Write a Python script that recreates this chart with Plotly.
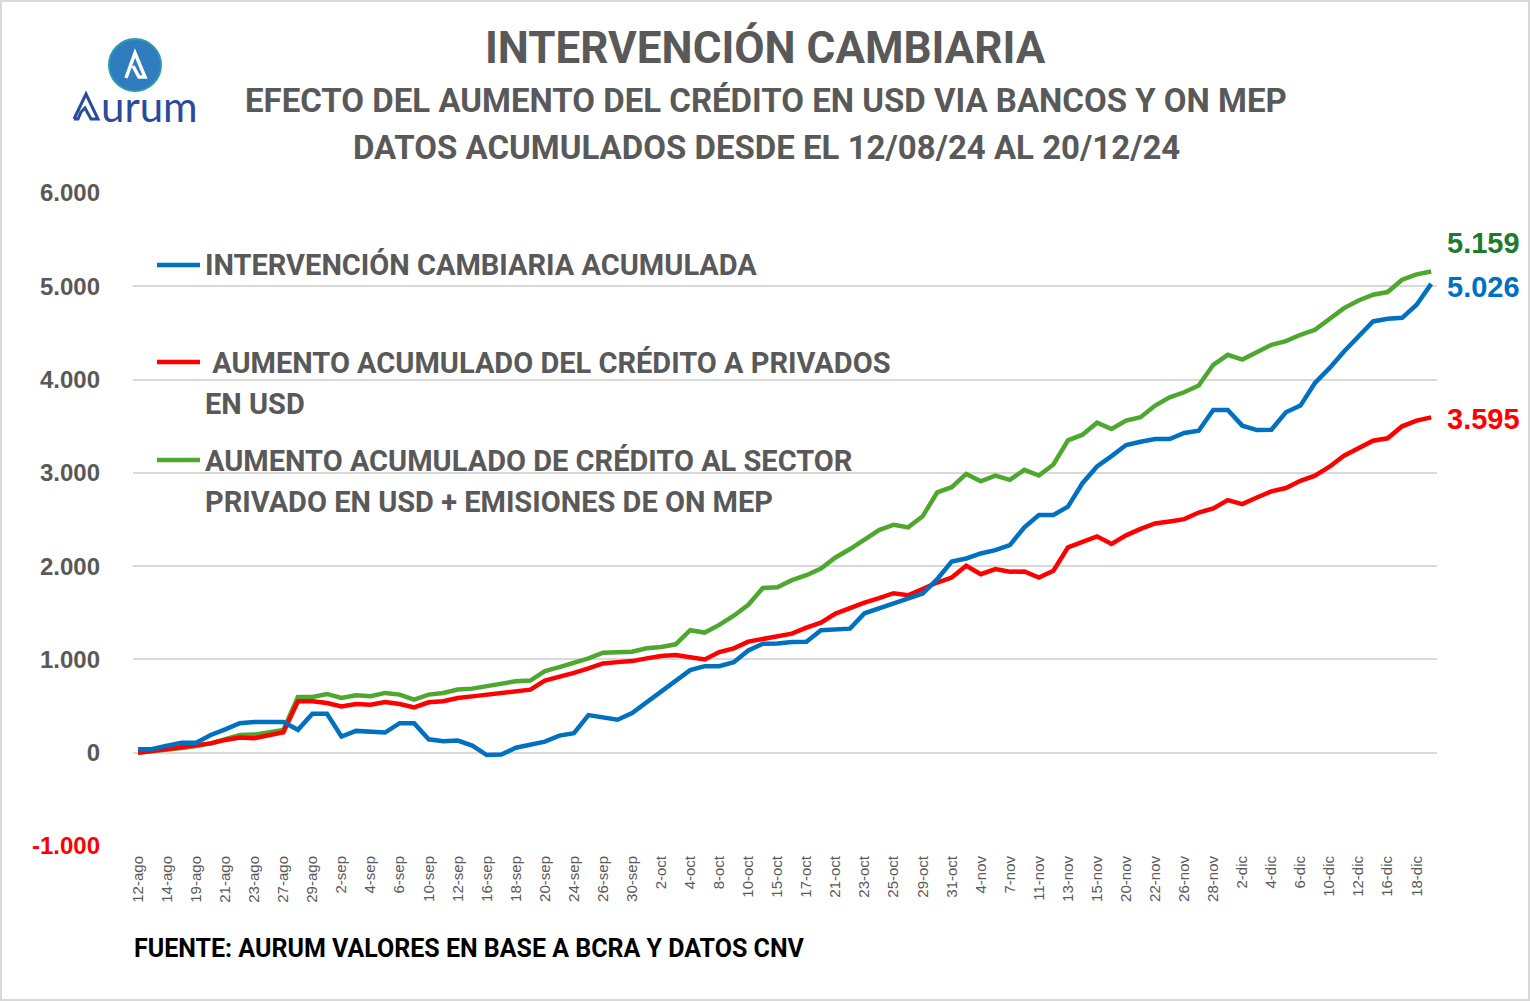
import plotly.graph_objects as go

# ---------------- DATA ----------------
dates = [
    "12-ago", "13-ago", "14-ago", "15-ago", "19-ago", "20-ago", "21-ago", "22-ago", "23-ago", "26-ago",
    "27-ago", "28-ago", "29-ago", "30-ago",
    "2-sep", "3-sep", "4-sep", "5-sep", "6-sep", "9-sep", "10-sep", "11-sep", "12-sep", "13-sep",
    "16-sep", "17-sep", "18-sep", "19-sep", "20-sep", "23-sep", "24-sep", "25-sep", "26-sep", "27-sep", "30-sep",
    "1-oct", "2-oct", "3-oct", "4-oct", "7-oct", "8-oct", "9-oct", "10-oct", "14-oct", "15-oct",
    "16-oct", "17-oct", "18-oct", "21-oct", "22-oct", "23-oct", "24-oct", "25-oct", "28-oct", "29-oct",
    "30-oct", "31-oct",
    "1-nov", "4-nov", "6-nov", "7-nov", "8-nov", "11-nov", "12-nov", "13-nov", "14-nov", "15-nov",
    "19-nov", "20-nov", "21-nov", "22-nov", "25-nov", "26-nov", "27-nov", "28-nov", "29-nov",
    "2-dic", "3-dic", "4-dic", "5-dic", "6-dic", "9-dic", "10-dic", "11-dic", "12-dic", "13-dic",
    "16-dic", "17-dic", "18-dic", "20-dic",
]

intervencion = [
    36, 40, 75, 108, 108, 190, 250, 317, 328, 328, 328,
    245, 418, 418, 173, 234, 230, 216, 317, 317, 144, 122,
    130, 76, -25, -20, 54, 83, 119, 183, 209, 403, 374, 353, 424, 540, 665, 773, 885, 928, 928, 971, 1097, 1169, 1170,
    1186, 1190, 1312, 1315, 1330, 1495, 1545, 1602, 1645, 1706, 1860, 2050, 2082, 2136, 2172, 2226, 2416, 2548, 2548,
    2638, 2889, 3068, 3180,
    3298, 3334, 3363, 3363, 3427, 3452, 3674, 3674, 3506, 3459, 3463, 3649, 3721, 3964, 4122, 4301, 4465, 4623, 4652,
    4662, 4802, 5026,
]

credito = [
    0, 18, 36, 54, 72, 100, 137, 162, 155, 184, 220,
    551, 551, 533, 497, 522, 515, 544, 522, 486, 540, 551,
    586, 604, 622, 640, 662, 676, 773, 809, 856, 903, 957, 971, 982, 1011, 1036, 1047, 1025, 1000, 1079, 1119, 1191,
    1216, 1241,
    1276, 1341, 1394, 1491, 1556, 1609, 1656, 1710, 1688, 1760, 1824, 1878, 2004, 1914, 1968, 1939, 1943, 1878, 1950,
    2201, 2262, 2319, 2237,
    2330, 2400, 2457, 2479, 2504, 2575, 2618, 2708, 2665, 2736, 2801, 2837, 2915, 2969, 3066, 3184, 3263, 3345, 3370,
    3499, 3560, 3595,
]

credito_on = [
    0, 14, 32, 50, 72, 100, 144, 190, 194, 220, 245,
    598, 598, 630, 587, 616, 605, 641, 623, 569, 623, 641, 677,
    687, 712, 737, 766, 773, 874, 917, 964, 1011, 1072, 1083, 1083, 1119, 1133, 1162, 1313, 1288, 1370, 1468, 1586,
    1766, 1773,
    1850, 1903, 1975, 2093, 2183, 2290, 2387, 2444, 2416, 2534, 2792, 2846, 2989, 2910, 2971, 2925, 3032, 2971, 3090,
    3348, 3409, 3538, 3470,
    3560, 3596, 3721, 3810, 3864, 3936, 4158, 4265, 4215, 4294, 4372, 4412, 4480, 4533, 4652, 4766, 4848, 4909, 4938,
    5070, 5128, 5159,
]

y_ticks = [-1000, 0, 1000, 2000, 3000, 4000, 5000, 6000]
y_tick_labels = ["-1.000", "0", "1.000", "2.000", "3.000", "4.000", "5.000", "6.000"]

series_names = [
    "INTERVENCIÓN CAMBIARIA ACUMULADA",
    "AUMENTO ACUMULADO DEL CRÉDITO A PRIVADOS EN USD",
    "AUMENTO ACUMULADO DE CRÉDITO AL SECTOR PRIVADO EN USD + EMISIONES DE ON MEP",
]

# ---------------- STYLE ----------------
W, H = 1530, 1001
L, R, T, B = 133, 93, 193, 155
PW, PH = W - L - R, H - T - B

BLUE = "#0070C0"
RED = "#FF0000"
GREEN = "#4EA72E"
GREEN_TXT = "#1E7B2E"
GRAY = "#595959"
GRID = "#D9D9D9"
NARROW = "Roboto, Liberation Sans, sans-serif"
ARIAL = "Liberation Sans, Arial, sans-serif"


def px(x):
    return (x - L) / PW


def py(y):
    return (H - B - y) / PH


fig = go.Figure()
for vals, col, name in [(credito_on, GREEN, series_names[2]),
                        (credito, RED, series_names[1]),
                        (intervencion, BLUE, series_names[0])]:
    fig.add_trace(go.Scatter(x=dates, y=vals, mode="lines", name=name,
                             line=dict(color=col, width=4.5), showlegend=False,
                             hoverinfo="x+y"))

tick_text = []
for v, t in zip(y_ticks, y_tick_labels):
    if v < 0:
        tick_text.append(f"<span style='color:{RED}'>{t}</span>")
    else:
        tick_text.append(t)

fig.update_layout(
    width=W, height=H,
    margin=dict(l=L, r=R, t=T, b=B, pad=0),
    paper_bgcolor="white", plot_bgcolor="white",
    xaxis=dict(
        type="category",
        range=[-0.35, len(dates) - 1 + 0.4],
        tickmode="array",
        tickvals=dates[::2],
        ticktext=dates[::2],
        tickangle=-90,
        tickfont=dict(family=ARIAL, size=15, color=GRAY),
        showgrid=False, showline=False, ticks="", zeroline=False,
        ticklabelstandoff=6,
    ),
    yaxis=dict(
        range=[-1000, 6000],
        tickmode="array",
        tickvals=y_ticks,
        ticktext=tick_text,
        tickfont=dict(family=ARIAL, size=24, color=GRAY, weight="bold"),
        showgrid=True, gridcolor=GRID, gridwidth=1.5,
        zeroline=True, zerolinecolor=GRID, zerolinewidth=1.5,
        showline=False, ticks="",
        ticklabelstandoff=32,
    ),
)

ann = []
# Titles
ann.append(dict(text="<b>INTERVENCIÓN CAMBIARIA</b>", x=px(765), y=py(48), xref="paper", yref="paper",
                showarrow=False, xanchor="center", yanchor="middle",
                font=dict(family=NARROW, size=44, color=GRAY)))
ann.append(dict(text="<b>EFECTO DEL AUMENTO DEL CRÉDITO EN USD VIA BANCOS Y ON MEP</b>", x=px(766), y=py(101),
                xref="paper", yref="paper", showarrow=False, xanchor="center", yanchor="middle",
                font=dict(family=NARROW, size=33, color=GRAY)))
ann.append(dict(text="<b>DATOS ACUMULADOS DESDE EL 12/08/24 AL 20/12/24</b>", x=px(766), y=py(147),
                xref="paper", yref="paper", showarrow=False, xanchor="center", yanchor="middle",
                font=dict(family=NARROW, size=33, color=GRAY)))

# Legend texts
leg_font = dict(family=NARROW, size=29, color=GRAY)
for txt, yy, xx in [
    ("INTERVENCIÓN CAMBIARIA ACUMULADA", 265, 203),
    (" AUMENTO ACUMULADO DEL CRÉDITO A PRIVADOS", 363, 203),
    ("EN USD", 404, 203),
    ("AUMENTO ACUMULADO DE CRÉDITO AL SECTOR", 461, 203),
    ("PRIVADO EN USD + EMISIONES DE ON MEP", 502, 203),
]:
    ann.append(dict(text=f"<b>{txt}</b>", x=px(xx), y=py(yy), xref="paper", yref="paper",
                    showarrow=False, xanchor="left", yanchor="middle", font=leg_font))

# End-value labels
for vals, col, ysh in [(credito_on, GREEN_TXT, 28), (intervencion, BLUE, -3), (credito, RED, -2)]:
    last = vals[-1]
    ann.append(dict(text=f"<b>{last:,}</b>".replace(",", "."), x=dates[-1], y=last,
                    xref="x", yref="y", showarrow=False, xanchor="left", yanchor="middle",
                    xshift=14, yshift=ysh, font=dict(family=ARIAL, size=29, color=col)))

# Footer
ann.append(dict(text="<b>FUENTE: AURUM VALORES EN BASE A BCRA Y DATOS CNV</b>", x=px(132), y=py(948),
                xref="paper", yref="paper", showarrow=False, xanchor="left", yanchor="middle",
                font=dict(family=NARROW, size=25, color="#000000")))

# Logo text
ann.append(dict(text="urum", x=px(99), y=py(106), xref="paper", yref="paper", showarrow=False,
                xanchor="left", yanchor="middle",
                font=dict(family="Lato, Noto Sans, sans-serif", size=42, color="#2A4B9B")))

fig.update_layout(annotations=ann)

shapes = []
# legend line markers
for yy, col in [(265, BLUE), (362, RED), (460, GREEN)]:
    shapes.append(dict(type="line", xref="paper", yref="paper", x0=px(157), x1=px(200), y0=py(yy), y1=py(yy),
                       line=dict(color=col, width=4.5)))
# outer border
shapes.append(dict(type="rect", xref="paper", yref="paper", x0=px(1), x1=px(W - 1), y0=py(H - 1), y1=py(1),
                   line=dict(color="#D9D9D9", width=2), fillcolor="rgba(0,0,0,0)", layer="below"))
# logo circle
shapes.append(dict(type="circle", xref="paper", yref="paper", x0=px(109), x1=px(161), y0=py(91), y1=py(39),
                   fillcolor="#2F7DBF", line=dict(color="#2F9AAE", width=2)))


def path_px(pts):
    s = ""
    for i, (a, b_) in enumerate(pts):
        s += ("M" if i == 0 else "L") + f"{px(a):.5f},{py(b_):.5f} "
    return s


# white glyph inside circle
shapes.append(dict(type="path", xref="paper", yref="paper",
                   path=path_px([(126, 78), (135, 53), (145, 77), (139, 77), (133, 66)]),
                   line=dict(color="white", width=3.5)))
# stylized "A" of Aurum
shapes.append(dict(type="path", xref="paper", yref="paper",
                   path=path_px([(74, 119), (86, 94), (98, 119), (91, 119), (85, 108), (81, 112), (78, 119), (74, 119)]),
                   line=dict(color="#2A4B9B", width=3)))
fig.update_layout(shapes=shapes)

fig.write_html("out.html", config={"displayModeBar": False},
               post_script="document.body.style.margin='0px';document.body.style.overflow='hidden';")
